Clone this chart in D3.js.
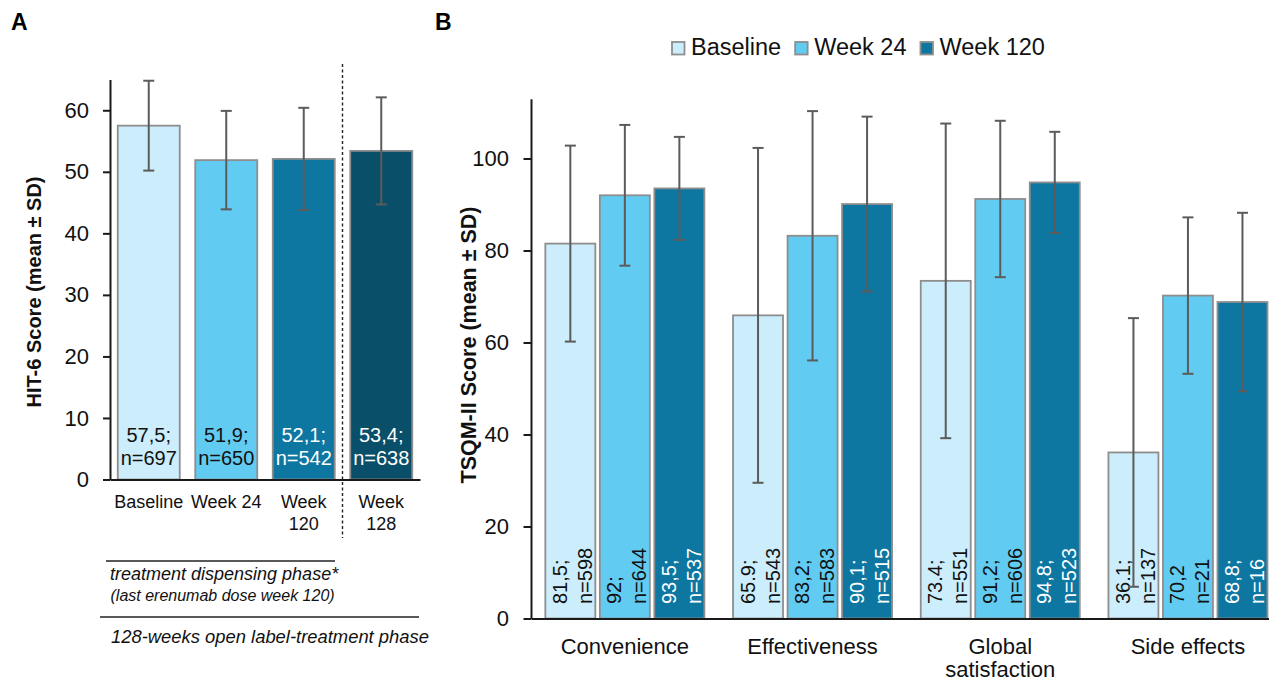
<!DOCTYPE html>
<html>
<head>
<meta charset="utf-8">
<script src="https://cdn.jsdelivr.net/npm/d3@7"></script>
<style>
  html, body { margin: 0; padding: 0; background: #fff; }
  svg { display: block; font-family: "Liberation Sans", Arial, Helvetica, sans-serif; }
</style>
</head>
<body>
<svg id="chart" width="1269" height="682"></svg>
<script>
// ---------- Data: panel A (HIT-6) ----------
const categoriesA = ["Baseline", "Week 24", "Week 120", "Week 128"];
const xLabelsA = [["Baseline"], ["Week 24"], ["Week", "120"], ["Week", "128"]];
const meansA = [57.5, 51.9, 52.1, 53.4];
const sdA = [7.3, 8.0, 8.3, 8.7];
const nA = [697, 650, 542, 638];
const meanTextA = ["57,5;", "51,9;", "52,1;", "53,4;"];
const ticksA = [0, 10, 20, 30, 40, 50, 60];

// ---------- Data: panel B (TSQM-II) ----------
const domainsB = ["Convenience", "Effectiveness", "Global satisfaction", "Side effects"];
const xLabelsB = [["Convenience"], ["Effectiveness"], ["Global", "satisfaction"], ["Side effects"]];
const seriesB = ["Baseline", "Week 24", "Week 120"];
const baselineB = [81.5, 65.9, 73.4, 36.1];
const week24B = [92.0, 83.2, 91.2, 70.2];
const week120B = [93.5, 90.1, 94.8, 68.8];
const sdBaselineB = [21.3, 36.4, 34.2, 29.2];
const sdWeek24B = [15.3, 27.1, 17.0, 17.0];
const sdWeek120B = [11.2, 19.0, 11.0, 19.4];
const labelBaselineB = [["81,5;", "n=598"], ["65.9;", "n=543"], ["73.4;", "n=551"], ["36.1;", "n=137"]];
const labelWeek24B = [["92;", "n=644"], ["83,2;", "n=583"], ["91,2;", "n=606"], ["70,2", "n=21"]];
const labelWeek120B = [["93,5;", "n=537"], ["90,1;", "n=515"], ["94,8;", "n=523"], ["68,8;", "n=16"]];
const ticksB = [0, 20, 40, 60, 80, 100];

// ---------- Styles ----------
const colorsA = ["#ccedfb", "#62cbf2", "#0d77a1", "#0a4f69"];
const textColorsA = ["#111", "#111", "#fff", "#fff"];
const colorsB = { "Baseline": "#ccedfb", "Week 24": "#62cbf2", "Week 120": "#0d77a1" };
const textColorsB = { "Baseline": "#111", "Week 24": "#111", "Week 120": "#fff" };
const barStroke = "#8e8e8e";
const errColor = "#5b5b5b";
const axisColor = "#1a1a1a";

const svg = d3.select("#chart");
svg.append("rect").attr("width", 1269).attr("height", 682).attr("fill", "#fff");

// ================= Panel A =================
const gA = svg.append("g");
const yA = d3.scaleLinear().domain([0, 65]).range([479.5, 79.5]);
const xA = d3.scaleBand().domain(categoriesA).range([110, 420]).paddingInner(0.2).paddingOuter(0.1);

gA.append("text").attr("x", 11).attr("y", 30).attr("font-size", 23).attr("font-weight", "bold").text("A");

// bars
const dataA = categoriesA.map((c, i) => ({ c, m: meansA[i], sd: sdA[i], n: nA[i], t: meanTextA[i], i }));
gA.selectAll("rect.bar").data(dataA).join("rect")
  .attr("x", d => xA(d.c)).attr("width", xA.bandwidth())
  .attr("y", d => yA(d.m)).attr("height", d => yA(0) - yA(d.m))
  .attr("fill", d => colorsA[d.i]).attr("stroke", barStroke).attr("stroke-width", 1.8);

// value labels
const labA = gA.selectAll("text.val").data(dataA).join("text")
  .attr("text-anchor", "middle").attr("font-size", 20)
  .attr("fill", d => textColorsA[d.i]);
labA.append("tspan").attr("x", d => xA(d.c) + xA.bandwidth() / 2).attr("y", 442).text(d => d.t);
labA.append("tspan").attr("x", d => xA(d.c) + xA.bandwidth() / 2).attr("y", 464.5).text(d => "n=" + d.n);

// error bars
const errA = gA.selectAll("g.err").data(dataA).join("g")
  .attr("stroke", errColor).attr("stroke-width", 2);
errA.append("line")
  .attr("x1", d => xA(d.c) + xA.bandwidth() / 2).attr("x2", d => xA(d.c) + xA.bandwidth() / 2)
  .attr("y1", d => yA(d.m + d.sd)).attr("y2", d => yA(d.m - d.sd));
[1, -1].forEach(s => {
  errA.append("line")
    .attr("x1", d => xA(d.c) + xA.bandwidth() / 2 - 5.5).attr("x2", d => xA(d.c) + xA.bandwidth() / 2 + 5.5)
    .attr("y1", d => yA(d.m + s * d.sd)).attr("y2", d => yA(d.m + s * d.sd));
});

// y axis
const axA = gA.append("g").attr("transform", "translate(110,0)")
  .call(d3.axisLeft(yA).tickValues(ticksA).tickSize(7).tickPadding(14).tickSizeOuter(0));
axA.attr("font-family", null);
axA.select(".domain").attr("stroke", axisColor).attr("stroke-width", 2);
axA.selectAll(".tick line").attr("stroke", axisColor).attr("stroke-width", 2);
axA.selectAll(".tick text").attr("font-size", 22).attr("fill", "#111");

// x axis
const axXA = gA.append("g").attr("transform", "translate(0,479.5)")
  .call(d3.axisBottom(xA).tickSize(0).tickSizeOuter(0).tickFormat(""));
axXA.select(".domain").attr("stroke", axisColor).attr("stroke-width", 2);
const xlA = gA.selectAll("text.xl").data(categoriesA).join("text")
  .attr("text-anchor", "middle").attr("font-size", 18).attr("fill", "#111");
xlA.each(function(c, i) {
  const el = d3.select(this);
  xLabelsA[i].forEach((ln, k) => {
    el.append("tspan").attr("x", xA(c) + xA.bandwidth() / 2).attr("y", 508 + k * 22).text(ln);
  });
});

// y title
gA.append("text").attr("transform", "translate(41,292) rotate(-90)")
  .attr("text-anchor", "middle").attr("font-size", 20).attr("font-weight", "bold").attr("fill", "#111")
  .text("HIT-6 Score (mean ± SD)");

// dashed divider
const divX = (xA("Week 120") + xA.bandwidth() + xA("Week 128")) / 2;
gA.append("line").attr("x1", divX).attr("x2", divX).attr("y1", 64).attr("y2", 538)
  .attr("stroke", "#222").attr("stroke-width", 1.4).attr("stroke-dasharray", "3,2.5");

// phase annotations
gA.append("line").attr("x1", 106).attr("x2", 335).attr("y1", 561).attr("y2", 561).attr("stroke", "#222").attr("stroke-width", 1.5);
gA.append("text").attr("x", 110).attr("y", 580).attr("font-size", 18).attr("font-style", "italic").attr("fill", "#111")
  .text("treatment dispensing phase*");
gA.append("text").attr("x", 110.5).attr("y", 601).attr("font-size", 16).attr("font-style", "italic").attr("fill", "#111")
  .text("(last erenumab dose week 120)");
gA.append("line").attr("x1", 100).attr("x2", 419).attr("y1", 617).attr("y2", 617).attr("stroke", "#222").attr("stroke-width", 1.5);
gA.append("text").attr("x", 111).attr("y", 643).attr("font-size", 18.4).attr("font-style", "italic").attr("fill", "#111")
  .text("128-weeks open label-treatment phase");

// ================= Panel B =================
const gB = svg.append("g");
const yB = d3.scaleLinear().domain([0, 113]).range([618.5, 618.5 - 113 * 4.6]);
const x0 = d3.scaleBand().domain(domainsB).range([531, 531 + 4 * 187.7]).padding(0);
const x1 = d3.scaleBand().domain(seriesB).range([0, x0.bandwidth()]).paddingInner(0.083).paddingOuter(0.263);

gB.append("text").attr("x", 435).attr("y", 30).attr("font-size", 23).attr("font-weight", "bold").text("B");

const valsB = { "Baseline": baselineB, "Week 24": week24B, "Week 120": week120B };
const sdsB = { "Baseline": sdBaselineB, "Week 24": sdWeek24B, "Week 120": sdWeek120B };
const labsB = { "Baseline": labelBaselineB, "Week 24": labelWeek24B, "Week 120": labelWeek120B };
const dataB = [];
domainsB.forEach((g, gi) => seriesB.forEach(s => {
  dataB.push({ g, s, m: valsB[s][gi], sd: sdsB[s][gi], lab: labsB[s][gi] });
}));
const cxB = d => x0(d.g) + x1(d.s) + x1.bandwidth() / 2;

gB.selectAll("rect.bar").data(dataB).join("rect")
  .attr("x", d => x0(d.g) + x1(d.s)).attr("width", x1.bandwidth())
  .attr("y", d => yB(d.m)).attr("height", d => yB(0) - yB(d.m))
  .attr("fill", d => colorsB[d.s]).attr("stroke", barStroke).attr("stroke-width", 1.8);

// rotated labels
const labB = gB.selectAll("text.val").data(dataB).join("text")
  .attr("transform", d => `translate(${cxB(d)},604) rotate(-90)`)
  .attr("font-size", 20).attr("fill", d => textColorsB[d.s]);
labB.append("tspan").attr("x", 0).attr("y", -3.5).text(d => d.lab[0]);
labB.append("tspan").attr("x", 0).attr("y", 21.5).text(d => d.lab[1]);

// error bars
const errB = gB.selectAll("g.err").data(dataB).join("g").attr("stroke", errColor).attr("stroke-width", 2);
errB.append("line").attr("x1", cxB).attr("x2", cxB)
  .attr("y1", d => yB(d.m + d.sd)).attr("y2", d => yB(d.m - d.sd));
[1, -1].forEach(s => {
  errB.append("line").attr("x1", d => cxB(d) - 5.5).attr("x2", d => cxB(d) + 5.5)
    .attr("y1", d => yB(d.m + s * d.sd)).attr("y2", d => yB(d.m + s * d.sd));
});

// axes
const axB = gB.append("g").attr("transform", "translate(531,0)")
  .call(d3.axisLeft(yB).tickValues(ticksB).tickSize(7.5).tickPadding(14.5).tickSizeOuter(0));
axB.attr("font-family", null);
axB.select(".domain").attr("stroke", axisColor).attr("stroke-width", 2);
axB.selectAll(".tick line").attr("stroke", axisColor).attr("stroke-width", 2);
axB.selectAll(".tick text").attr("font-size", 22).attr("fill", "#111");

const axXB = gB.append("g").attr("transform", "translate(0,618.5)")
  .call(d3.axisBottom(x0).tickSize(0).tickSizeOuter(0).tickFormat(""));
axXB.select(".domain").attr("stroke", axisColor).attr("stroke-width", 2);
const xlB = gB.selectAll("text.xl").data(domainsB).join("text")
  .attr("text-anchor", "middle").attr("font-size", 22).attr("fill", "#111");
xlB.each(function(c, i) {
  const el = d3.select(this);
  xLabelsB[i].forEach((ln, k) => {
    el.append("tspan").attr("x", x0(c) + x0.bandwidth() / 2).attr("y", 654 + k * 22.5).text(ln);
  });
});

gB.append("text").attr("transform", "translate(476,345) rotate(-90)")
  .attr("text-anchor", "middle").attr("font-size", 21.5).attr("font-weight", "bold").attr("fill", "#111")
  .text("TSQM-II Score (mean ± SD)");

// legend
const leg = gB.append("g");
let lx = 672;
seriesB.forEach(s => {
  leg.append("rect").attr("x", lx).attr("y", 42).attr("width", 12.5).attr("height", 12.5)
    .attr("fill", colorsB[s]).attr("stroke", barStroke).attr("stroke-width", 1.8);
  const t = leg.append("text").attr("x", lx + 19).attr("y", 55).attr("font-size", 23.5).attr("fill", "#111").text(s);
  lx += 19 + t.node().getComputedTextLength() + 14;
});
</script>
</body>
</html>
